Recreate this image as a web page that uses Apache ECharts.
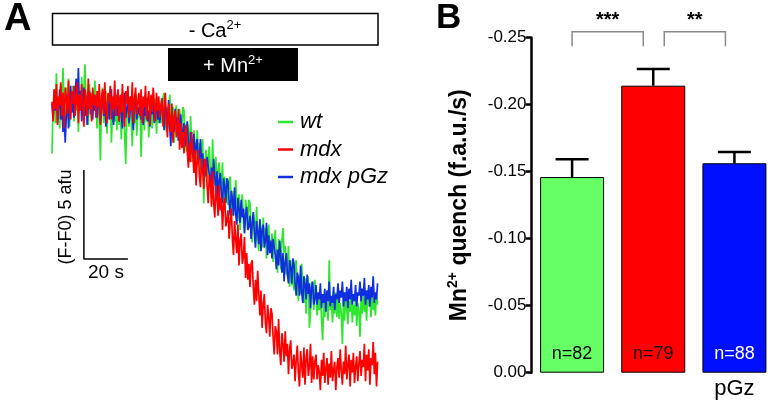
<!DOCTYPE html>
<html>
<head>
<meta charset="utf-8">
<script src="https://cdn.jsdelivr.net/npm/echarts@6/dist/echarts.min.js"></script>
<style>
html,body{margin:0;padding:0;background:#fff;}
#chart{width:775px;height:404px;}
</style>
</head>
<body>
<div id="chart"></div>
<script>
// ---------- Panel A: fluorescence traces (afu vs s, 0.5 s sampling) ----------
var traceStep = 0.5; // seconds per sample
var wtTrace = [
 -3.0, -0.2, 0.6, -1.3, 1.5, -0.5, 0.2, -1.6, 0.9, -0.8, 1.8, -0.3, -1.1, 0.7, -0.4, 1.2, -1.5, 0.3, -0.7, 0.8,
 -1.2, 0.4, -0.6, 1.0, -1.8, 0.2, -0.3, 1.3, -0.9, 0.6, 2.0, -0.5, 0.3, -1.4, 0.9, -0.2, -1.0, 0.5, -0.6, 1.1,
 -0.4, -1.6, 0.3, -0.9, -3.4, -0.2, 0.7, -1.3, -0.5, 0.5, -1.9, -0.1, -1.0, 0.6, -2.4, -0.6, 0.2, -1.2, -0.3, -1.7,
 0.3, -1.4, -0.2, -2.2, -0.6, 0.4, -1.8, -3.6, -0.9, -0.1, -1.5, 0.2, -1.1, -2.6, -0.3, -1.3, 0.1, -2.0, -0.7, -1.0,
 -0.2, -3.2, -0.9, -0.4, -1.7, 0.3, -1.2, -0.5, -2.1, -0.1, 0.2, -1.6, -0.6, -1.1, 0.1, -1.9, -0.4, -1.3, -0.8, -0.2,
 -1.3, 0.2, 0.4, -1.0, -1.8, -0.4, -1.4, 0.3, -0.8, -1.9, -0.4, -2.4, -0.9, -0.3, -1.7, -2.3, -0.5, -1.1, -2.2, -0.4,
 -0.6, -1.9, -2.9, -1.3, -1.7, -2.9, -0.9, -2.7, -3.5, -1.7, -2.4, -3.4, -1.7, -3.1, -2.4, -4.0, -2.6, -2.2, -5.8, -3.5,
 -2.8, -4.4, -3.3, -2.6, -4.1, -5.0, -2.2, -4.0, -4.8, -3.2, -5.3, -3.9, -3.5, -5.1, -4.7, -3.5, -5.8, -4.3, -5.7, -4.8,
 -5.9, -4.5, -4.3, -5.7, -6.5, -5.1, -6.2, -4.5, -5.7, -6.8, -5.3, -7.3, -5.9, -5.3, -6.8, -7.4, -5.6, -6.2, -7.3, -5.6,
 -5.8, -7.1, -8.0, -6.4, -6.8, -8.0, -6.0, -7.7, -8.5, -6.7, -7.3, -8.3, -6.6, -7.9, -7.2, -8.9, -7.4, -7.0, -8.5, -8.2,
 -7.5, -9.1, -8.0, -7.3, -8.8, -9.7, -7.8, -8.7, -9.5, -7.9, -7.2, -8.6, -8.2, -9.8, -9.4, -8.2, -10.5, -9.0, -10.4, -9.5,
 -10.7, -9.3, -9.0, -10.4, -11.3, -9.8, -10.9, -9.2, -10.4, -11.4, -10.0, -12.0, -10.5, -9.9, -12.8, -11.9, -10.2, -10.8, -11.8, -10.1,
 -10.8, -12.1, -11.2, -11.8, -10.9, -12.3, -13.5, -11.4, -12.2, -10.9, -11.7, -12.4, -9.0, -11.8, -11.1, -12.5, -11.3, -12.0, -10.8, -12.2,
 -11.0, -12.3, -11.4, -12.0, -13.7, -11.2, -12.4, -10.9, -11.8, -12.6, -11.3, -11.9, -10.7, -12.5, -11.5, -12.1, -10.9, -12.7, -11.4, -11.8,
 -13.3, -11.2, -12.0, -10.8, -11.9, -11.1, -12.4, -10.7, -11.6, -11.0, -12.2, -10.6, -11.8, -11.3, -12.1, -10.9, -11.5
];
var mdxTrace = [
 -0.1, -1.2, 0.6, -0.5, 0.9, -1.4, 0.2, -0.3, 1.0, -0.9, 0.4, -1.6, 0.7, 0.1, -0.8, 1.1, -0.4, -1.1, 0.5, -0.2,
 0.8, -0.9, -0.1, 1.0, -1.3, 0.3, -0.6, 0.9, -0.2, -1.5, 0.6, 0.0, -0.9, 1.2, -0.5, 0.4, -1.2, 0.7, -0.3, 0.3,
 -1.0, 0.5, -0.4, 0.9, -1.4, 0.1, 0.6, -0.8, 1.0, -0.6, -1.3, 0.4, -0.1, 0.8, -1.1, 0.2, -0.5, 1.1, -0.9, 0.0,
 0.6, -1.2, 0.3, -0.7, 0.9, -0.3, -1.5, 0.5, -0.2, 0.8, -1.0, 0.2, -0.6, 1.0, -1.3, 0.1, 0.7, -0.8, -0.1, 0.4,
 -0.9, 0.6, -1.3, 0.2, -0.4, 0.8, -1.1, 0.0, 0.5, -1.4, 0.3, -0.7, 0.7, -0.2, -1.2, 0.4, -0.6, 0.2, -1.0, -0.3,
 0.1, -1.5, -0.4, 0.4, -1.2, -2.1, -0.2, -1.1, -1.8, -0.2, -2.4, -1.0, -0.6, -2.1, -1.7, -0.5, -2.8, -1.3, -2.7, -1.8,
 -3.0, -1.6, -1.4, -2.9, -3.8, -2.4, -3.5, -1.8, -3.0, -4.1, -2.8, -4.8, -3.4, -2.8, -4.3, -4.9, -3.3, -3.9, -5.0, -3.3,
 -3.5, -4.8, -5.8, -4.2, -4.6, -6.0, -4.0, -5.8, -6.6, -4.8, -5.5, -6.5, -4.8, -6.2, -5.5, -7.3, -5.9, -5.5, -7.1, -6.8,
 -6.2, -7.8, -6.8, -6.1, -7.8, -8.7, -6.8, -7.8, -8.6, -7.0, -9.3, -7.9, -7.5, -9.2, -8.8, -7.7, -10.0, -8.6, -10.1, -9.2,
 -10.5, -9.2, -9.0, -10.5, -11.5, -10.1, -11.3, -9.6, -10.9, -12.1, -10.7, -12.8, -11.5, -10.9, -12.5, -13.1, -11.5, -12.2, -13.3, -11.7,
 -12.0, -13.3, -14.3, -12.7, -13.0, -14.3, -12.3, -14.1, -14.9, -13.1, -13.7, -14.7, -13.0, -14.4, -13.7, -15.4, -14.0, -13.5, -15.1, -14.8,
 -14.3, -15.8, -14.6, -13.8, -15.3, -16.1, -14.1, -14.9, -15.6, -13.9, -16.0, -14.5, -14.0, -15.5, -15.0, -13.7, -15.9, -14.4, -15.7, -14.7,
 -14.3, -15.7, -14.9, -15.3, -16.3, -14.6, -15.5, -14.2, -15.9, -15.1, -14.5, -16.0, -14.8, -15.6, -14.1, -15.8, -15.2, -14.7, -16.3, -15.0,
 -14.5, -15.6, -14.0, -15.2, -16.0, -14.7, -15.4, -13.8, -15.7, -14.9, -14.3, -16.1, -14.6, -15.3, -14.2, -15.9, -15.0, -14.4, -15.8, -14.8,
 -14.1, -15.5, -14.6, -15.0, -13.7, -15.8, -14.3, -15.2, -14.0, -16.0, -14.5, -14.9, -13.6, -15.4, -14.2, -16.1, -14.7
];
var pgzTrace = [
 -0.2, -1.0, 0.5, -0.6, 0.2, -1.3, -0.4, 0.6, -1.1, -0.3, -1.8, -0.5, -2.4, -0.9, 0.3, -1.6, -0.2, 0.8, -0.7, -0.1,
 -1.0, 0.4, 1.2, -0.3, 1.8, -0.6, 0.5, -1.2, -0.1, 0.7, -0.9, 0.2, -1.4, -0.3, 0.5, -0.8, -0.1, -1.1, 0.3, -0.6,
 0.2, -1.0, -0.3, 0.5, -1.3, -0.4, 0.4, -0.9, 0.0, -1.5, -0.6, 0.3, -1.1, -0.2, 0.6, -0.8, -1.4, -0.1, 0.3, -0.9,
 -0.3, -1.2, 0.2, -0.7, -1.6, -0.2, 0.4, -1.0, -0.5, 0.1, -1.3, -0.6, 0.2, -0.9, -1.7, -0.3, 0.3, -1.1, -0.4, -0.8,
 0.0, -1.1, -0.5, -1.4, -0.2, -0.9, 0.1, -1.2, -0.6, -1.5, -0.3, -0.8, 0.0, -1.3, -0.7, -0.2, -1.1, -0.5, -1.3, -0.6,
 0.1, -1.0, -1.7, -0.3, -0.7, -1.6, 0.0, -1.4, -2.6, -0.5, -1.1, -1.8, -0.5, -1.5, -1.0, -2.3, -1.2, -0.8, -2.1, -1.8,
 -1.3, -2.6, -1.8, -1.2, -2.5, -3.3, -1.8, -2.5, -3.2, -1.9, -3.7, -2.5, -2.2, -3.5, -3.2, -2.2, -4.1, -3.0, -4.1, -3.4,
 -4.3, -3.2, -3.1, -4.2, -4.9, -3.8, -4.7, -3.3, -4.3, -5.2, -4.0, -5.6, -4.5, -4.1, -5.3, -5.8, -4.4, -4.9, -5.8, -4.4,
 -4.6, -5.7, -6.5, -5.1, -5.5, -6.5, -4.9, -6.4, -7.0, -5.5, -6.1, -6.9, -5.6, -6.6, -6.1, -7.5, -6.4, -6.0, -7.3, -7.1,
 -6.5, -7.8, -6.9, -6.3, -7.5, -8.3, -6.8, -7.4, -8.1, -6.7, -8.5, -7.3, -7.0, -8.3, -7.9, -6.9, -8.7, -7.6, -8.6, -7.9,
 -8.9, -7.8, -7.7, -8.7, -9.5, -8.4, -9.3, -7.9, -8.8, -9.7, -8.6, -10.2, -9.1, -8.6, -9.8, -10.3, -9.0, -9.4, -10.3, -8.9,
 -9.2, -10.3, -11.0, -9.7, -10.0, -11.0, -9.3, -10.8, -11.4, -9.9, -10.4, -11.2, -9.8, -10.9, -10.3, -11.7, -10.5, -10.2, -11.5, -11.2,
 -10.4, -11.5, -10.8, -11.2, -10.3, -11.7, -10.9, -11.4, -10.6, -11.9, -10.7, -11.3, -10.2, -11.6, -11.0, -11.4, -10.5, -11.8, -10.9, -11.2,
 -10.3, -11.4, -10.7, -11.1, -10.2, -11.6, -10.8, -11.3, -10.5, -11.7, -10.6, -11.2, -10.1, -11.5, -10.9, -11.3, -10.4, -11.6, -10.8, -11.0,
 -10.2, -11.3, -10.6, -11.0, -10.0, -11.5, -10.7, -11.2, -10.4, -11.6, -10.5, -11.1, -9.9, -11.4, -10.8, -11.2, -10.3
];
var traceNames = ['wt', 'mdx', 'mdx pGz'];
var scaleBarOrigin = [14.5, -8.93]; // s, afu
var scaleBarSize = [20, 5];         // 20 s, 5 afu

// ---------- Panel B: Mn2+ quench bars ----------
var groups = ['wt', 'mdx', 'mdx pGz'];
var groupAxisLabels = ['', '', 'pGz'];
var quenchMean = [-0.146, -0.2142, -0.1563];
var quenchSem = [0.0132, 0.0124, 0.0084];
var nLabels = ['n=82', 'n=79', 'n=88'];
var yTicks = [-0.25, 0, 0.05];       // min, max, interval
var brackets = [[0, 1, '***'], [1, 2, '**']];
var bracketLevels = [-0.2545, -0.2437]; // top, foot

// ---------- styling ----------
var FONT = 'Liberation Sans, Arial, Helvetica, sans-serif';
var traceColors = ['#2fe62f', '#ff0000', '#1030e0'];
var barColors = ['#66ff66', '#ff0000', '#0010ff'];
var nColors = ['#000000', '#111111', '#ffffff'];
var bracketInsets = [[0, 10], [11, 9]];

function toPairs(arr) {
  return arr.map(function (v, i) { return [i * traceStep, v]; });
}

var chart = echarts.init(document.getElementById('chart'), null, {renderer: 'canvas'});

var traceSeries = [
  {name: traceNames[0], data: wtTrace, color: traceColors[0], z: 2},
  {name: traceNames[2], data: pgzTrace, color: traceColors[2], z: 3},
  {name: traceNames[1], data: mdxTrace, color: traceColors[1], z: 4}
].map(function (s) {
  return {
    type: 'line', name: s.name, xAxisIndex: 0, yAxisIndex: 0,
    data: toPairs(s.data), showSymbol: false, symbol: 'none', clip: false,
    color: s.color, z: s.z,
    lineStyle: {color: s.color, width: 1.7}, animation: false, silent: true
  };
});

var scaleBar = {
  type: 'line', xAxisIndex: 0, yAxisIndex: 0, silent: true, symbol: 'none', clip: false,
  data: [
    [scaleBarOrigin[0], scaleBarOrigin[1] + scaleBarSize[1]],
    [scaleBarOrigin[0], scaleBarOrigin[1]],
    [scaleBarOrigin[0] + scaleBarSize[0], scaleBarOrigin[1]]
  ],
  lineStyle: {color: '#000', width: 1.5}, animation: false
};

var bars = {
  type: 'bar', xAxisIndex: 1, yAxisIndex: 1, barWidth: 64, animation: false, z: 2,
  data: quenchMean.map(function (v, i) {
    return {
      value: v,
      itemStyle: {color: barColors[i], borderColor: '#000', borderWidth: 1},
      label: {
        show: true, position: 'insideBottom', distance: 10,
        formatter: nLabels[i], color: nColors[i], fontSize: 18, fontFamily: FONT
      }
    };
  })
};

var errorBars = {
  type: 'custom', xAxisIndex: 1, yAxisIndex: 1, animation: false, z: 3, clip: false,
  data: quenchMean.map(function (v, i) { return [i, v, v - quenchSem[i]]; }),
  renderItem: function (params, api) {
    var base = api.coord([api.value(0), api.value(1)]);
    var top = api.coord([api.value(0), api.value(2)]);
    var half = 16.5;
    var st = {stroke: '#000', lineWidth: 2.5};
    return {
      type: 'group', children: [
        {type: 'line', shape: {x1: base[0], y1: base[1], x2: top[0], y2: top[1]}, style: st},
        {type: 'line', shape: {x1: top[0] - half, y1: top[1], x2: top[0] + half, y2: top[1]}, style: st}
      ]
    };
  }
};

var bracketSeries = {
  type: 'custom', xAxisIndex: 1, yAxisIndex: 1, animation: false, z: 3, clip: false,
  data: brackets.map(function (b) { return [b[0], b[1], bracketLevels[0], bracketLevels[1]]; }),
  renderItem: function (params, api) {
    var i = params.dataIndex;
    var a = api.coord([api.value(0), api.value(2)]);
    var b = api.coord([api.value(1), api.value(2)]);
    var foot = api.coord([api.value(0), api.value(3)]);
    var x1 = a[0] + bracketInsets[i][0], x2 = b[0] - bracketInsets[i][1];
    return {
      type: 'group', children: [
        {type: 'polyline', shape: {points: [[x1, foot[1]], [x1, a[1]], [x2, a[1]], [x2, foot[1]]]},
          style: {stroke: '#8a8a8a', lineWidth: 1.5, fill: null}},
        {type: 'text', style: {text: brackets[i][2], x: (x1 + x2) / 2, y: a[1] - 11,
          align: 'center', verticalAlign: 'middle', fontSize: 20, fontWeight: 'bold',
          fontFamily: FONT, fill: '#000'}}
      ]
    };
  }
};

var sup = {fontSize: 13, fontFamily: FONT, verticalAlign: 'top', lineHeight: 20};

chart.setOption({
  animation: false,
  backgroundColor: '#fff',
  textStyle: {fontFamily: FONT},
  grid: [
    {left: 52, top: 46.6, width: 325.6, height: 356},
    {left: 531.5, top: 37.7, width: 250, height: 335}
  ],
  xAxis: [
    {type: 'value', gridIndex: 0, min: 0, max: 148, show: false},
    {type: 'category', gridIndex: 1, data: groups,
      axisLine: {show: false}, axisTick: {show: false},
      axisLabel: {formatter: function (v, i) { return groupAxisLabels[i]; },
        color: '#000', fontSize: 22, fontFamily: FONT, margin: 5}}
  ],
  yAxis: [
    {type: 'value', gridIndex: 0, min: -17, max: 3, show: false},
    {type: 'value', gridIndex: 1, min: yTicks[0], max: yTicks[1], interval: yTicks[2], inverse: true,
      splitLine: {show: false},
      axisLine: {show: true, lineStyle: {color: '#000', width: 2.5}},
      axisTick: {show: true, length: 6, lineStyle: {color: '#000', width: 2.5}},
      axisLabel: {color: '#000', fontSize: 17, fontFamily: FONT, margin: 5,
        formatter: function (v) { return (Math.abs(v) < 1e-9 ? 0 : v).toFixed(2); }},
      name: '{b|Mn}{s|2+}{b| quench (f.a.u./s)}',
      nameLocation: 'middle', nameGap: 59,
      nameTextStyle: {rich: {
        b: {fontSize: 23, fontWeight: 'bold', fontFamily: FONT, color: '#000', lineHeight: 26},
        s: {fontSize: 14, fontWeight: 'bold', fontFamily: FONT, color: '#000', verticalAlign: 'top', lineHeight: 20}
      }}}
  ],
  legend: {
    data: traceNames, orient: 'vertical', left: 273, top: 106,
    icon: 'rect', itemWidth: 15, itemHeight: 2.5, itemGap: 5.5,
    textStyle: {fontSize: 22, fontStyle: 'italic', fontFamily: FONT, color: '#000', lineHeight: 22, padding: [0, 0, 0, 2]},
    selectedMode: false
  },
  series: traceSeries.concat([scaleBar, bars, errorBars, bracketSeries]),
  graphic: [
    {type: 'text', left: 4, top: 1, style: {text: 'A', fontSize: 38, fontWeight: 'bold', fontFamily: FONT, fill: '#000'}},
    {type: 'text', left: 436, top: 1, style: {text: 'B', fontSize: 35, fontWeight: 'bold', fontFamily: FONT, fill: '#000'}},
    {type: 'rect', shape: {x: 52.5, y: 13.5, width: 325.5, height: 31.5}, style: {fill: '#fff', stroke: '#000', lineWidth: 1.5}},
    {type: 'text', x: 215, y: 31, style: {text: '{t|- Ca}{s|2+}', align: 'center', verticalAlign: 'middle',
      rich: {t: {fontSize: 20, fontFamily: FONT, fill: '#000', lineHeight: 24}, s: Object.assign({fill: '#000'}, sup)}}},
    {type: 'rect', shape: {x: 168, y: 48, width: 130, height: 33}, style: {fill: '#000'}},
    {type: 'text', x: 233, y: 66, style: {text: '{t|+ Mn}{s|2+}', align: 'center', verticalAlign: 'middle',
      rich: {t: {fontSize: 20, fontFamily: FONT, fill: '#fff', lineHeight: 24}, s: Object.assign({fill: '#fff'}, sup)}}},
    {type: 'text', x: 106, y: 273, style: {text: '20 s', align: 'center', verticalAlign: 'middle', fontSize: 19, fontFamily: FONT, fill: '#000'}},
    {type: 'text', x: 66, y: 217, rotation: Math.PI / 2, style: {text: '(F-F0) 5 afu', align: 'center', verticalAlign: 'middle', fontSize: 18, fontFamily: FONT, fill: '#000'}}
  ]
});
</script>
</body>
</html>
